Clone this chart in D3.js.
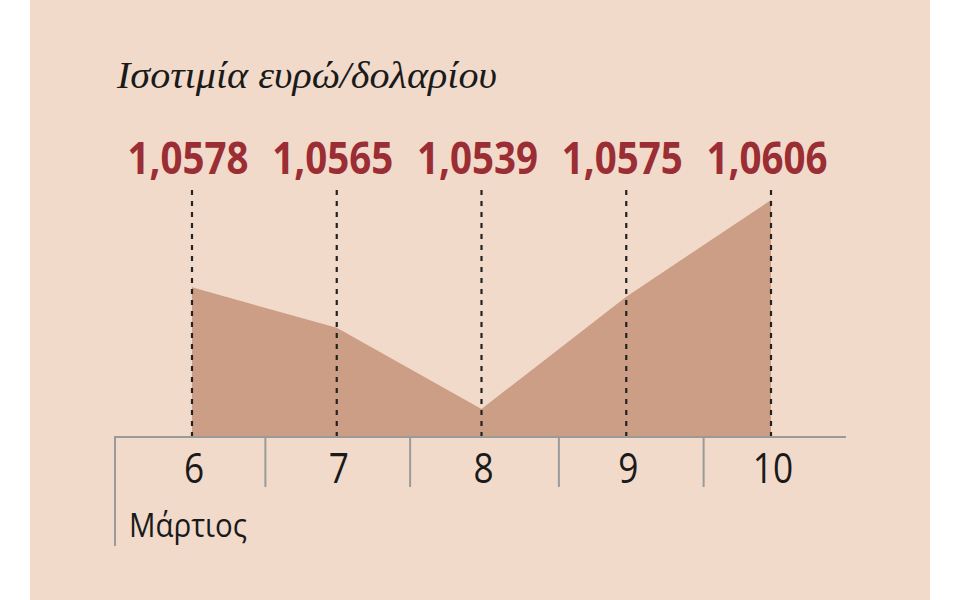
<!DOCTYPE html>
<html>
<head>
<meta charset="utf-8">
<script src="https://cdn.jsdelivr.net/npm/d3@7"></script>
<style>
  html, body { margin: 0; padding: 0; background: #ffffff; }
  svg { display: block; }
</style>
</head>
<body>
<script>
const days = ["6", "7", "8", "9", "10"];
const rates = [1.0578, 1.0565, 1.0539, 1.0575, 1.0606];
const rateLabels = ["1,0578", "1,0565", "1,0539", "1,0575", "1,0606"];
const title = "Ισοτιμία ευρώ/δολαρίου";
const monthLabel = "Μάρτιος";

const W = 960, H = 600;
const svg = d3.select("body").append("svg").attr("width", W).attr("height", H);

svg.append("rect").attr("x", 30).attr("y", 0).attr("width", 900).attr("height", 600).attr("fill", "#f2dacb");

const x = d3.scalePoint().domain(days).range([192, 771]);
const y = d3.scaleLinear().domain([1.0530, 1.0606]).range([437, 200]);

const data = days.map((d, i) => ({ day: d, v: rates[i], label: rateLabels[i] }));

// separators: left edge, midpoints between days (slightly shifted like the original)
const sepX = [115].concat(days.slice(1).map((d, i) => (x(days[i]) + x(d)) / 2 + (i >= 2 ? 5 : 1)));

// area
const area = d3.area().x(d => x(d.day)).y0(y(1.0530)).y1(d => y(d.v));
svg.append("path").datum(data).attr("d", area).attr("fill", "#cc9e85");

// dashed lines
svg.selectAll("line.drop").data(data).enter().append("line")
  .attr("class", "drop")
  .attr("x1", d => x(d.day)).attr("x2", d => x(d.day))
  .attr("y1", 190).attr("y2", y(1.0530) - 1)
  .attr("stroke", "#222").attr("stroke-width", 2.2)
  .attr("stroke-dasharray", "5,6");

// value labels
svg.selectAll("text.val").data(data).enter().append("text")
  .attr("class", "val")
  .attr("x", d => x(d.day) - 4).attr("y", 174)
  .attr("text-anchor", "middle")
  .attr("font-family", "'Open Sans', sans-serif")
  .attr("font-weight", 700)
  .attr("font-size", 45)
  .attr("fill", "#9b2d34")
  .attr("textLength", 121)
  .attr("lengthAdjust", "spacingAndGlyphs")
  .text(d => d.label);

// axis
const axisY = y(1.0530);
svg.append("line").attr("x1", 114).attr("x2", 846).attr("y1", axisY).attr("y2", axisY)
  .attr("stroke", "#9a9a9a").attr("stroke-width", 2);
svg.selectAll("line.sep").data(sepX).enter().append("line")
  .attr("class", "sep")
  .attr("x1", d => d).attr("x2", d => d)
  .attr("y1", axisY).attr("y2", (d, i) => i === 0 ? 546 : 487)
  .attr("stroke", "#9a9a9a").attr("stroke-width", 2);

// tick labels
svg.selectAll("text.tick").data(days).enter().append("text")
  .attr("class", "tick")
  .attr("transform", d => `translate(${x(d) + 2},483) scale(0.84,1)`)
  .attr("text-anchor", "middle")
  .attr("font-family", "'Open Sans', sans-serif")
  .attr("font-size", 42)
  .attr("fill", "#1a1a1a")
  .text(d => d);

svg.append("text").attr("x", 129).attr("y", 537)
  .attr("font-family", "'Open Sans', sans-serif")
  .attr("font-size", 33)
  .attr("fill", "#1a1a1a")
  .attr("textLength", 118)
  .attr("lengthAdjust", "spacingAndGlyphs")
  .text(monthLabel);

// title
svg.append("text").attr("x", 117).attr("y", 88)
  .attr("font-family", "'Liberation Serif', 'DejaVu Serif', serif")
  .attr("font-style", "italic")
  .attr("font-size", 37)
  .attr("fill", "#1a1a1a")
  .attr("textLength", 380)
  .attr("lengthAdjust", "spacingAndGlyphs")
  .text(title);
</script>
</body>
</html>
